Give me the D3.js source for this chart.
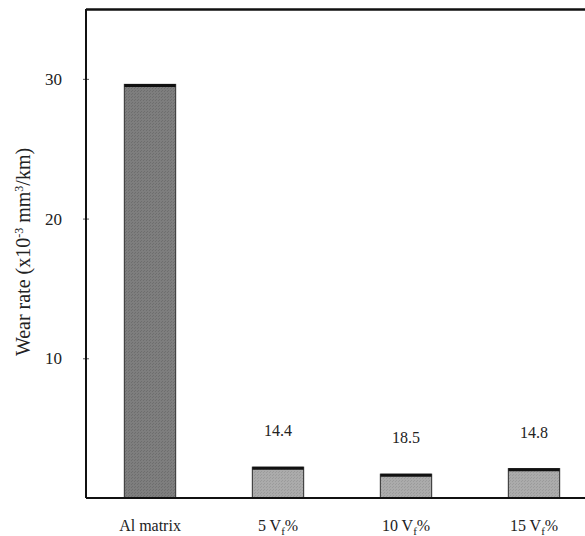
<!DOCTYPE html>
<html><head><meta charset="utf-8">
<script src="https://cdn.jsdelivr.net/npm/d3@7"></script>
<style>
html,body{margin:0;padding:0;background:#fff;}
svg{display:block;}
</style></head>
<body>
<svg id="chart" width="585" height="536"></svg>
<script>
const categories = ["Al matrix", "5 V", "10 V", "15 V"];
const wearRate = [29.6, 2.2, 1.7, 2.1];
const annotations = ["", "14.4", "18.5", "14.8"];
const yTicks = [10, 20, 30];

(function () {
const FONT = "Liberation Serif";
const svg = d3.select("#chart");
const W = 585;
const mLeft = 86, mBottom = 498, mTop = 9;

const x = d3.scaleBand().domain(categories).range([mLeft, 598]).paddingInner(0.6).paddingOuter(0.3);
const y = d3.scaleLinear().domain([0, 35]).range([mBottom, mTop]);

// patterns for texture
const defs = svg.append("defs");
function pat(id, base, dot) {
  const p = defs.append("pattern").attr("id", id).attr("width", 3).attr("height", 3).attr("patternUnits", "userSpaceOnUse");
  p.append("rect").attr("width", 3).attr("height", 3).attr("fill", base);
  p.append("rect").attr("x", 0).attr("y", 0).attr("width", 1).attr("height", 1).attr("fill", dot);
  p.append("rect").attr("x", 2).attr("y", 1).attr("width", 1).attr("height", 1).attr("fill", dot);
}
pat("pDark", "#7e7e7e", "#6e6e6e");
pat("pLight", "#ababab", "#9b9b9b");

// bars
const bars = svg.append("g");
bars.selectAll("rect.bar").data(categories).join("rect")
  .attr("class", "bar")
  .attr("x", d => x(d))
  .attr("y", (d, i) => y(wearRate[i]))
  .attr("width", x.bandwidth())
  .attr("height", (d, i) => y(0) - y(wearRate[i]))
  .attr("fill", (d, i) => i === 0 ? "url(#pDark)" : "url(#pLight)")
  .attr("stroke", "#444").attr("stroke-width", 1.2);
bars.selectAll("line.cap").data(categories).join("line")
  .attr("class", "cap")
  .attr("x1", d => x(d)).attr("x2", d => x(d) + x.bandwidth())
  .attr("y1", (d, i) => y(wearRate[i]) + 1).attr("y2", (d, i) => y(wearRate[i]) + 1)
  .attr("stroke", "#111").attr("stroke-width", 3);

// frame: top line, left axis, bottom axis
svg.append("line").attr("x1", mLeft).attr("x2", W).attr("y1", mTop + 0.5).attr("y2", mTop + 0.5)
  .attr("stroke", "#111").attr("stroke-width", 2.5);

const yAxis = svg.append("g").attr("transform", `translate(${mLeft},0)`)
  .call(d3.axisLeft(y).tickValues(yTicks).tickSize(3).tickPadding(21).tickFormat(d3.format("d")));
yAxis.attr("font-family", FONT);
yAxis.select(".domain").remove();
yAxis.selectAll(".tick line").attr("stroke", "#555").attr("x2", 3).attr("x1", -3);
yAxis.selectAll(".tick text").style("font-family", FONT).style("font-size", "17px").attr("fill", "#222");
svg.append("line").attr("x1", mLeft).attr("x2", mLeft).attr("y1", mTop).attr("y2", mBottom)
  .attr("stroke", "#111").attr("stroke-width", 2);

const xAxis = svg.append("g").attr("transform", `translate(0,${mBottom})`)
  .call(d3.axisBottom(x).tickSize(0).tickPadding(14).tickFormat(() => ""));
xAxis.attr("font-family", FONT);
xAxis.select(".domain").remove();
svg.append("line").attr("x1", mLeft).attr("x2", W).attr("y1", mBottom).attr("y2", mBottom)
  .attr("stroke", "#111").attr("stroke-width", 2.2);

// x tick labels with subscript f
xAxis.selectAll(".tick").each(function(d, i) {
  const t = d3.select(this).select("text").text(null)
    .style("font-family", FONT).style("font-size", "16px").attr("fill", "#222").attr("y", 22);
  if (i === 0) { t.text(d); return; }
  t.append("tspan").text(d);
  t.append("tspan").text("f").attr("dy", 4).style("font-size", "11px");
  t.append("tspan").text("%").attr("dy", -4);
});

// annotations above small bars
svg.append("g").selectAll("text").data(categories).join("text")
  .attr("x", d => x(d) + x.bandwidth() / 2)
  .attr("y", (d, i) => y(wearRate[i]) - 31)
  .attr("text-anchor", "middle")
  .style("font-family", FONT)
  .style("font-size", "16px")
  .attr("fill", "#222")
  .text((d, i) => annotations[i]);

// y title
const title = svg.append("text")
  .attr("transform", `translate(30,${252}) rotate(-90)`)
  .attr("text-anchor", "middle")
  .style("font-family", FONT)
  .style("font-size", "20px")
  .attr("fill", "#222");
title.append("tspan").text("Wear rate (x10");
title.append("tspan").text("-3").attr("dy", -7).style("font-size", "12px");
title.append("tspan").text(" mm").attr("dy", 7);
title.append("tspan").text("3").attr("dy", -7).style("font-size", "12px");
title.append("tspan").text("/km)").attr("dy", 7);
})();
</script>
</body></html>
